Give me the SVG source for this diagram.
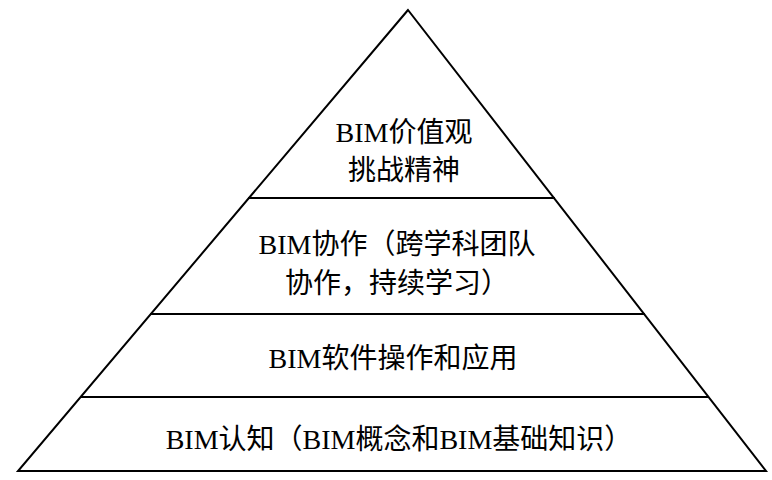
<svg xmlns="http://www.w3.org/2000/svg" width="772" height="480" viewBox="0 0 772 480">
<style>
line,polygon{stroke:#000;stroke-width:2;fill:none}
text{font-family:"Liberation Serif","Noto Sans CJK SC",serif;font-size:28px;text-anchor:middle;fill:#000}
</style>
<rect width="772" height="480" fill="#fff"/>
<g id="pyramid">
<polygon points="408,10 18,471 766,471"/>
</g>
<g id="connectors">
<line x1="248" y1="198" x2="555" y2="198"/>
<line x1="150" y1="314" x2="645" y2="314"/>
<line x1="80" y1="397" x2="709" y2="397"/>
</g>
<g id="level4"><text x="404" y="142">BIM价值观</text><text x="404" y="180">挑战精神</text></g>
<g id="level3"><text x="397" y="254">BIM协作（跨学科团队</text><text x="397" y="293">协作，持续学习）</text></g>
<g id="level2"><text x="393" y="368">BIM软件操作和应用</text></g>
<g id="level1"><text x="399" y="449">BIM认知（BIM概念和BIM基础知识）</text></g>
</svg>
